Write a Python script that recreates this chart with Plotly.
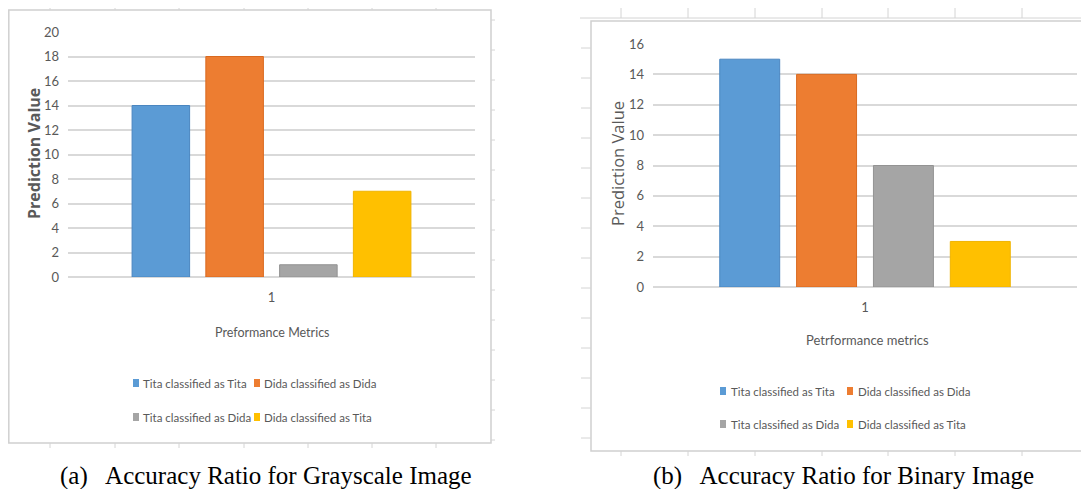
import plotly.graph_objects as go

# ---------------- data ----------------
categories = ["1"]
series_names = ["Tita classified as Tita", "Dida classified as Dida",
                "Tita classified as Dida", "Dida classified as Tita"]
grayscale_values = [14, 18, 1, 7]
binary_values = [15, 14, 8, 3]
colors = ["#5B9BD5", "#ED7D31", "#A5A5A5", "#FFC000"]
line_colors = ["#4A86C0", "#D9691F", "#939393", "#F0B400"]
gray_ticks = list(range(0, 21, 2))
binary_ticks = list(range(0, 17, 2))
xtitle_gray = "Preformance Metrics"
xtitle_binary = "Petrformance metrics"
ytitle = "Prediction Value"
caption_a = "(a)\u00a0\u00a0 Accuracy Ratio for Grayscale Image"
caption_b = "(b)\u00a0\u00a0 Accuracy Ratio for Binary Image"

# page body has an 8px margin: figure is drawn from (8, 8)
OFF = 8
W, H = 1073, 481
def fx(x):
    return (x - OFF) / W
def fy(y):
    return 1 - (y - OFF) / H

SANS = "Lato, Open Sans, sans-serif"
TXT = "#595959"
GRID = "#D9D9D9"

fig = go.Figure()
for i, name in enumerate(series_names):
    fig.add_trace(go.Bar(
        x=categories, y=[grayscale_values[i]], name=name, showlegend=False,
        marker=dict(color=colors[i], line=dict(color=line_colors[i], width=1)),
        xaxis="x", yaxis="y"))
for i, name in enumerate(series_names):
    fig.add_trace(go.Bar(
        x=categories, y=[binary_values[i]], name=name, showlegend=False,
        marker=dict(color=colors[i], line=dict(color=line_colors[i], width=1)),
        xaxis="x2", yaxis="y2"))

axis_font = dict(family=SANS, size=13, color=TXT)

def yaxis(dom, ticks, anchor):
    return dict(domain=dom, range=[0, ticks[-1]], tickvals=ticks, showgrid=True,
                gridcolor=GRID, gridwidth=1.5, zeroline=True, zerolinecolor=GRID,
                zerolinewidth=1.5, showline=False, ticks="", tickfont=axis_font,
                anchor=anchor, ticklabelstandoff=8, automargin=False, fixedrange=True)

def xaxis(dom, anchor):
    return dict(domain=dom, type="category", showgrid=False, zeroline=False,
                showline=False, ticks="", tickfont=axis_font, anchor=anchor,
                ticklabelstandoff=11, automargin=False, fixedrange=True)

fig.update_layout(
    width=W, height=H, margin=dict(l=0, r=0, t=0, b=0, autoexpand=False),
    paper_bgcolor="white", plot_bgcolor="white",
    barmode="group", bargap=0.275, bargroupgap=0.22,
    xaxis=xaxis([fx(68), fx(475)], "y"),
    yaxis=yaxis([fy(277), fy(32)], gray_ticks, "x"),
    xaxis2=xaxis([fx(653), fx(1077)], "y2"),
    yaxis2=yaxis([fy(287), fy(44)], binary_ticks, "x2"),
    showlegend=False,
)

# ---- chart frames and spreadsheet cell marks ----
shapes = []
def line(x0, y0, x1, y1, color="#D4D4D4", width=1):
    shapes.append(dict(type="line", xref="paper", yref="paper",
                       x0=fx(x0), y0=fy(y0), x1=fx(x1), y1=fy(y1),
                       line=dict(color=color, width=width), layer="below"))

shapes.append(dict(type="rect", xref="paper", yref="paper", x0=fx(8.8), y0=fy(443),
                   x1=fx(491), y1=fy(10), line=dict(color="#D0D0D0", width=1.5),
                   layer="below"))
for x in [50, 115, 179, 244, 308, 372, 436]:
    line(x, 8, x, 10)
    line(x, 443, x, 448)
for y in range(20, 450, 30):
    line(491, y, 495, y)

shapes.append(dict(type="rect", xref="paper", yref="paper", x0=fx(591), y0=fy(451),
                   x1=fx(1095), y1=fy(21), line=dict(color="#D0D0D0", width=1.5),
                   layer="below"))
line(580, 18, 1089, 18)
for x in [621, 688, 755, 822, 888, 955, 1022]:
    line(x, 8, x, 18)
    line(x, 451, x, 456)
for y in range(48, 440, 30):
    line(581, y, 591, y)

# ---- legends (squares + labels built from the series arrays) ----
ann = []
def legend(col_x, row_y, txt_dx):
    for i, name in enumerate(series_names):
        r, c = divmod(i, 2)
        sx = col_x[c]
        sy = row_y[r]
        shapes.append(dict(type="rect", xref="paper", yref="paper",
                           x0=fx(sx), x1=fx(sx + 6), y0=fy(sy + 4), y1=fy(sy - 4),
                           fillcolor=colors[i], line=dict(width=0)))
        ann.append(dict(text=name, x=fx(sx + txt_dx), y=fy(sy), xanchor="left",
                        yanchor="middle", showarrow=False, xref="paper", yref="paper",
                        font=dict(family=SANS, size=11.5, color=TXT)))

legend([133, 254], [383, 417], 8)
legend([720, 847], [391, 424], 9)
fig.update_layout(shapes=shapes)

def note(text, x, y, font, angle=0):
    ann.append(dict(text=text, x=fx(x), y=fy(y), xanchor="center", yanchor="middle",
                    textangle=angle, showarrow=False, xref="paper", yref="paper",
                    font=font))

note(ytitle, 34, 154, dict(family="Open Sans, sans-serif", size=16, color=TXT,
                           weight="bold"), -90)
note(ytitle, 617, 164, dict(family="Open Sans, sans-serif", size=16.5, color=TXT), -90)
note(xtitle_gray, 272, 332, dict(family=SANS, size=12.5, color=TXT))
note(xtitle_binary, 867, 340, dict(family=SANS, size=13, color=TXT))
serif = dict(family="Liberation Serif, Times New Roman, serif", size=25, color="black")
note(caption_a, 266, 476, serif)
note(caption_b, 843, 476, serif)
fig.update_layout(annotations=ann)

fig.write_html("out.html")
